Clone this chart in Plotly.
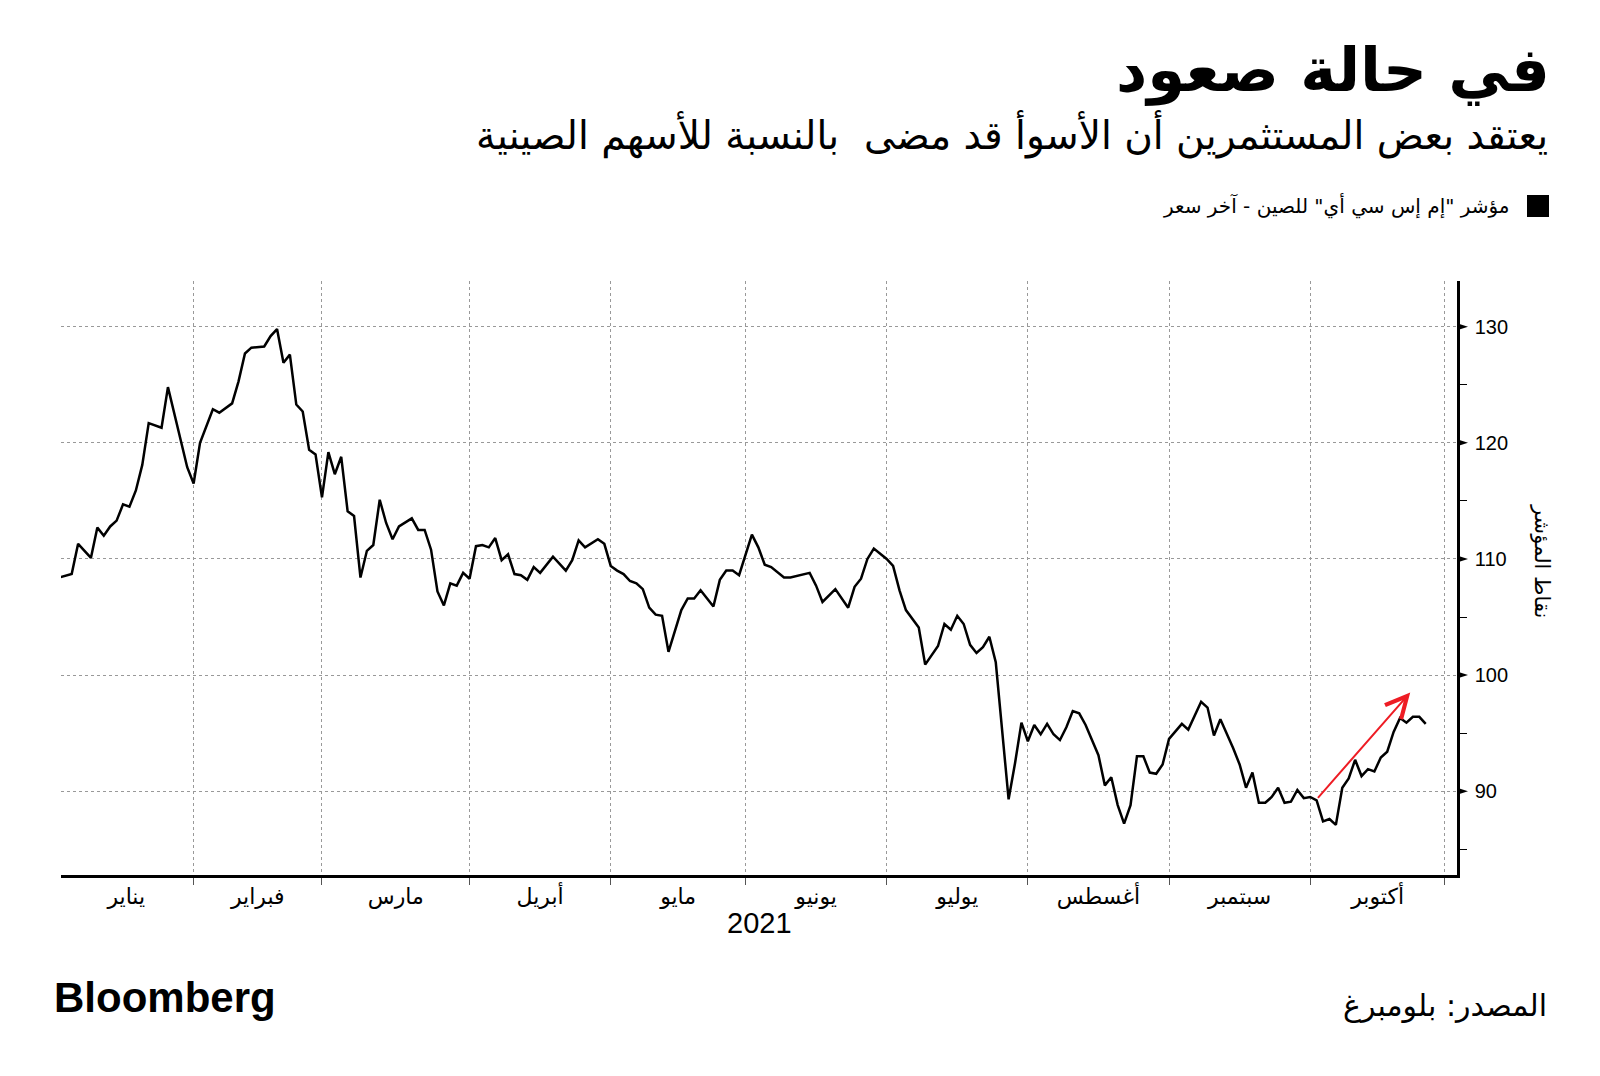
import plotly.graph_objects as go

# ---------------- data ----------------
dates = [
    "2021-01-01", "2021-01-05", "2021-01-06", "2021-01-08", "2021-01-11", "2021-01-12", "2021-01-13",
    "2021-01-14", "2021-01-15", "2021-01-18", "2021-01-19", "2021-01-20", "2021-01-21", "2021-01-25",
    "2021-01-26", "2021-01-29", "2021-02-01", "2021-02-02", "2021-02-04", "2021-02-05", "2021-02-09",
    "2021-02-10", "2021-02-11", "2021-02-12", "2021-02-16", "2021-02-17", "2021-02-18", "2021-02-19",
    "2021-02-22", "2021-02-23", "2021-02-24", "2021-02-25", "2021-02-26", "2021-03-01", "2021-03-02",
    "2021-03-03", "2021-03-04", "2021-03-05", "2021-03-08", "2021-03-09", "2021-03-10", "2021-03-11",
    "2021-03-12", "2021-03-15", "2021-03-16", "2021-03-17", "2021-03-19", "2021-03-22", "2021-03-23",
    "2021-03-24", "2021-03-25", "2021-03-26", "2021-03-29", "2021-03-30", "2021-03-31", "2021-04-01",
    "2021-04-02", "2021-04-05", "2021-04-06", "2021-04-07", "2021-04-08", "2021-04-09", "2021-04-12",
    "2021-04-13", "2021-04-14", "2021-04-15", "2021-04-16", "2021-04-20", "2021-04-22", "2021-04-23",
    "2021-04-26", "2021-04-27", "2021-04-29", "2021-04-30", "2021-05-03", "2021-05-04", "2021-05-05",
    "2021-05-06", "2021-05-07", "2021-05-10", "2021-05-11", "2021-05-12", "2021-05-13", "2021-05-14",
    "2021-05-18", "2021-05-19", "2021-05-20", "2021-05-21", "2021-05-25", "2021-05-26", "2021-05-27",
    "2021-05-28", "2021-05-31", "2021-06-02", "2021-06-03", "2021-06-04", "2021-06-07", "2021-06-09",
    "2021-06-10", "2021-06-15", "2021-06-16", "2021-06-17", "2021-06-21", "2021-06-23", "2021-06-24",
    "2021-06-25", "2021-06-28", "2021-06-29", "2021-07-01", "2021-07-02", "2021-07-05", "2021-07-06",
    "2021-07-08", "2021-07-09", "2021-07-13", "2021-07-14", "2021-07-15", "2021-07-16", "2021-07-19",
    "2021-07-20", "2021-07-21", "2021-07-22", "2021-07-23", "2021-07-26", "2021-07-28", "2021-07-29",
    "2021-07-30", "2021-08-02", "2021-08-03", "2021-08-04", "2021-08-05", "2021-08-06", "2021-08-09",
    "2021-08-10", "2021-08-11", "2021-08-12", "2021-08-13", "2021-08-17", "2021-08-18", "2021-08-19",
    "2021-08-20", "2021-08-23", "2021-08-24", "2021-08-25", "2021-08-26", "2021-08-27", "2021-08-30",
    "2021-08-31", "2021-09-01", "2021-09-03", "2021-09-06", "2021-09-08", "2021-09-09", "2021-09-10",
    "2021-09-13", "2021-09-14", "2021-09-15", "2021-09-16", "2021-09-17", "2021-09-20", "2021-09-21",
    "2021-09-22", "2021-09-23", "2021-09-24", "2021-09-27", "2021-09-28", "2021-09-29", "2021-09-30",
    "2021-10-01", "2021-10-04", "2021-10-05", "2021-10-06", "2021-10-07", "2021-10-08", "2021-10-11",
    "2021-10-12", "2021-10-13", "2021-10-14", "2021-10-15", "2021-10-18", "2021-10-19", "2021-10-20",
    "2021-10-21", "2021-10-22", "2021-10-25", "2021-10-26", "2021-10-27",
]
values = [
    108.4, 108.7, 111.3, 110.1, 112.7, 112.0, 112.8,
    113.3, 114.7, 114.5, 115.9, 118.1, 121.7, 121.3,
    124.8, 117.9, 116.5, 120.0, 122.9, 122.6, 123.4,
    125.3, 127.7, 128.2, 128.3, 129.2, 129.8, 126.9,
    127.6, 123.3, 122.7, 119.4, 119.0, 115.3, 119.2,
    117.3, 118.8, 114.1, 113.7, 108.4, 110.7, 111.2,
    115.1, 113.1, 111.7, 112.8, 113.5, 112.5, 112.5,
    110.8, 107.2, 106.0, 107.9, 107.7, 108.8, 108.3,
    111.1, 111.2, 111.0, 111.8, 109.9, 110.4, 108.7,
    108.6, 108.2, 109.3, 108.8, 110.2, 109.0, 109.9,
    111.6, 111.0, 111.7, 111.3, 109.4, 109.0, 108.7,
    108.1, 107.9, 107.4, 105.8, 105.2, 105.1, 102.0,
    105.6, 106.6, 106.6, 107.3, 105.9, 108.2, 109.0,
    109.0, 108.6, 112.1, 111.0, 109.5, 109.3, 108.4,
    108.4, 108.8, 107.7, 106.3, 107.4, 105.8, 107.6,
    108.3, 110.0, 110.9, 110.0, 109.4, 107.3, 105.6,
    104.1, 100.9, 102.5, 104.4, 103.9, 105.1, 104.4,
    102.6, 101.9, 102.4, 103.3, 101.1, 89.3, 92.4,
    95.9, 94.3, 95.7, 94.9, 95.8, 94.9, 94.4,
    95.5, 96.9, 96.7, 95.7, 93.1, 90.5, 91.2,
    88.8, 87.2, 88.8, 93.0, 93.0, 91.6, 91.5,
    92.3, 94.5, 95.8, 95.3, 97.7, 97.2, 94.8,
    96.2, 95.0, 93.7, 92.3, 90.3, 91.6, 89.0,
    89.0, 89.5, 90.3, 89.0, 89.1, 90.1, 89.4,
    89.5, 89.2, 87.4, 87.6, 87.1, 90.3, 91.1,
    92.7, 91.3, 91.9, 91.7, 92.9, 93.4, 95.1,
    96.3, 95.9, 96.4, 96.4, 95.8,
]

month_label_dates = ["2021-01-15 12:00", "2021-02-15", "2021-03-16 12:00", "2021-04-16",
                     "2021-05-17 12:00", "2021-06-16", "2021-07-16", "2021-08-17",
                     "2021-09-16", "2021-10-15 12:00"]
month_labels = ["يناير", "فبراير", "مارس", "أبريل", "مايو", "يونيو", "يوليو",
                "أغسطس", "سبتمبر", "أكتوبر"]
month_starts = ["2021-02-01", "2021-03-01", "2021-04-01", "2021-05-03", "2021-06-01",
                "2021-07-01", "2021-08-02", "2021-09-01", "2021-10-01", "2021-11-01"]
y_major = [90, 100, 110, 120, 130]
y_minor = [85, 95, 105, 115, 125]

arrow_start = ("2021-10-04", 89.3)
arrow_end = ("2021-10-22 14:00", 98.5)

title_text = "في حالة صعود"
subtitle_text = "يعتقد بعض المستثمرين أن الأسوأ قد مضى  بالنسبة للأسهم الصينية"
legend_text = "مؤشر \"إم إس سي أي\" للصين - آخر سعر"
yaxis_title = "نقاط المؤشر"
year_text = "2021"
source_text = "المصدر: بلومبرغ"
brand_text = "Bloomberg"

# ---------------- layout geometry (pixels) ----------------
W, H = 1600, 1076
L, R, T, B = 61, 1457, 281, 875
pw, ph = R - L, B - T


def px(x, y):
    return (x - L) / pw, (B - y) / ph


AR = "DejaVu Sans"
LAT = "Liberation Sans"

fig = go.Figure()
fig.add_trace(go.Scatter(x=dates, y=values, mode="lines",
                         line=dict(color="black", width=2.5),
                         hoverinfo="skip", showlegend=False))

annotations = []


def add_text(text, x, y, size, xanchor="right", family=AR, bold=False, angle=0, color="black"):
    t = f"<b>{text}</b>" if bold else text
    xp, yp = px(x, y)
    annotations.append(dict(text=t, x=xp, y=yp, xref="paper", yref="paper",
                            xanchor=xanchor, yanchor="middle", showarrow=False,
                            textangle=angle,
                            font=dict(family=family, size=size, color=color)))


add_text(title_text, 1552, 70, 61, bold=True)
add_text(subtitle_text, 1550, 135, 39)
add_text(legend_text, 1512, 206, 20)
add_text(yaxis_title, 1542, 561, 21, xanchor="center", angle=90)
add_text(year_text, 759, 923, 29, xanchor="center", family=LAT)
add_text(brand_text, 52, 997, 42, xanchor="left", family=LAT, bold=True)
add_text(source_text, 1549, 1005, 30)

# red arrow
annotations.append(dict(x=arrow_end[0], y=arrow_end[1], ax=arrow_start[0], ay=arrow_start[1],
                        xref="x", yref="y", axref="x", ayref="y", text="",
                        showarrow=True, arrowhead=5, arrowsize=2.1, arrowwidth=2,
                        arrowcolor="#ee1c24"))

shapes = []
# legend square
x0, y0 = px(1527, 217)
x1, y1 = px(1549, 195)
shapes.append(dict(type="rect", xref="paper", yref="paper", x0=x0, y0=y0, x1=x1, y1=y1,
                   fillcolor="black", line=dict(width=0)))
# triangle tick marks on right axis
for v in y_major:
    shapes.append(dict(type="path", xref="paper", yref="y", xsizemode="pixel", ysizemode="pixel",
                       xanchor=1, yanchor=v, path="M0,-3.5 L11,0 L0,3.5 Z",
                       fillcolor="black", line=dict(width=0)))

fig.update_layout(
    width=W, height=H,
    margin=dict(l=L, r=W - R, t=T, b=H - B),
    paper_bgcolor="white", plot_bgcolor="white",
    annotations=annotations, shapes=shapes,
    showlegend=False,
    xaxis=dict(
        type="date",
        range=["2021-01-01 08:00", "2021-11-02 21:00"],
        rangebreaks=[dict(bounds=["sat", "mon"])],
        tickmode="array", tickvals=month_label_dates, ticktext=month_labels,
        ticks="", showgrid=False, ticklabelstandoff=0,
        tickfont=dict(family=AR, size=22, color="black"),
        showline=True, linecolor="black", linewidth=2.5,
        minor=dict(tickmode="array", tickvals=month_starts, ticks="outside",
                   ticklen=7, tickwidth=1, tickcolor="#555",
                   showgrid=True, gridcolor="#999", griddash="dot", gridwidth=1),
        zeroline=False, fixedrange=True,
    ),
    yaxis=dict(
        side="right",
        range=[82.78, 133.94],
        tickmode="array", tickvals=y_major,
        ticks="outside", ticklen=11, tickcolor="rgba(0,0,0,0)",
        tickfont=dict(family=LAT, size=20, color="black"),
        showgrid=True, gridcolor="#999", griddash="dot", gridwidth=1,
        showline=True, linecolor="black", linewidth=2.5,
        minor=dict(tickmode="array", tickvals=y_minor, ticks="outside",
                   ticklen=7, tickwidth=1, tickcolor="black", showgrid=False),
        zeroline=False, fixedrange=True,
    ),
)

fig.write_html("out.html")
